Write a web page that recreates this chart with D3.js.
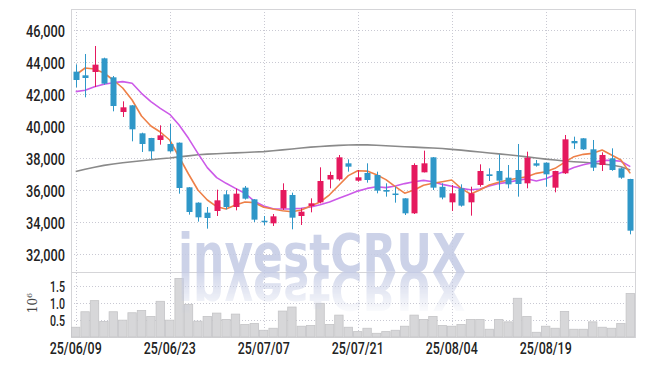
<!DOCTYPE html>
<html>
<head>
<meta charset="utf-8">
<script src="https://cdn.jsdelivr.net/npm/d3@7/dist/d3.min.js"></script>
<style>
  body { margin: 0; background: #fff; }
  .lbl { font-family: Roboto, "Liberation Sans", sans-serif; font-weight: 500; font-size: 16px; fill: #222; }
  .vlbl { font-family: Roboto, "Liberation Sans", sans-serif; font-weight: 500; font-size: 14px; fill: #222; }
</style>
</head>
<body>
<div id="chart"></div>
<script>
// trading days shown
var dates = [
  "2025-06-09","2025-06-10","2025-06-11","2025-06-12","2025-06-13","2025-06-16","2025-06-17","2025-06-18","2025-06-19","2025-06-20",
  "2025-06-23","2025-06-24","2025-06-25","2025-06-26","2025-06-27","2025-06-30","2025-07-01","2025-07-02","2025-07-03","2025-07-04",
  "2025-07-07","2025-07-08","2025-07-09","2025-07-10","2025-07-11","2025-07-14","2025-07-15","2025-07-16","2025-07-17","2025-07-18",
  "2025-07-21","2025-07-22","2025-07-23","2025-07-24","2025-07-25","2025-07-28","2025-07-29","2025-07-30","2025-07-31","2025-08-01",
  "2025-08-04","2025-08-05","2025-08-06","2025-08-07","2025-08-08","2025-08-11","2025-08-12","2025-08-13","2025-08-14","2025-08-18",
  "2025-08-19","2025-08-20","2025-08-21","2025-08-22","2025-08-25","2025-08-26","2025-08-27","2025-08-28","2025-08-29","2025-09-01"
];

var opens  = [43396,43167,43375,44229,43042,40875,41292,39542,39250,39125, 38875,38958,36167,35208,34583,34688,35729,34938,36146,35417,
              34080,33917,34854,35688,34375,35000,35229,36656,36667,37667, 36583,37063,36938,36000,35780,35479,34542,37104,38042,36200,
              35229,36104,35229,36313,36979,37188,36771,37250,36417,37667, 37708,36146,37042,39063,39229,38542,37563,37979,37354,36688];
var highs  = [43854,44500,45000,44271,43125,41542,41300,39583,39260,40042, 40125,38970,36180,35230,34938,36021,35979,36083,36250,35430,
              34375,34500,36417,35833,34854,35479,37417,37146,38188,37917, 37250,37667,37146,36417,36208,35490,37667,38458,38060,36417,
              36313,36354,36208,37604,37354,38229,37563,38875,38396,37875, 37720,37200,39438,39333,39240,39125,38354,38604,37400,36700];
var lows   = [42417,41792,42438,42583,40917,40563,39042,38375,37917,38833, 38333,35771,34458,34021,33583,34375,34792,34729,35400,34000,
              33800,33750,34750,33542,33813,34604,35167,36104,36583,37146, 36521,36458,35792,35583,35208,34438,34500,37100,36000,35417,
              34688,34958,34396,36208,36563,36000,36104,35583,36104,37458, 36208,35854,37000,38563,38500,37188,37188,37200,36700,33229];
var closes = [42875,43000,43833,42646,41250,41167,39792,38875,38417,39417, 38417,36125,34625,34292,34250,35354,34938,35771,35458,34146,
              34020,34354,36000,34271,34646,35167,36563,36938,38042,37458, 36792,36625,35958,35896,35720,34542,37563,37667,36146,35530,
              35792,35021,35792,37188,36875,36583,36354,36375,38021,37521, 36979,37188,39167,38917,38542,37396,38188,37250,36771,33458];

// moving averages as drawn (5, 20 and long term)
var ma5   = [43187,43625,43560,43312,42875,42375,41625,40625,40000,39625, 39125,38062,37000,36000,35375,34958,34812,35062,35250,35208,
             34917,34812,34700,34645,34750,35000,35250,35700,36300,36900, 37200,37180,36950,36650,36210,35800,36000,36300,36420,36520,
             36625,36104,35750,36000,36312,36479,36625,36730,36833,37041, 37145,37354,37730,38083,38229,38291,38500,38187,37875,37041];
var ma20  = [42146,42229,42458,42604,42708,42771,42667,42042,41521,41104, 40729,40062,39229,38292,37396,36771,36417,36104,35792,35300,
             35000,34830,34810,34820,34860,34940,35080,35250,35480,35700, 35930,36100,36200,36150,36250,36400,36520,36600,36520,36350,
             36230,36100,36020,36060,36250,36400,36480,36600,36700,36560, 36700,36950,37150,37400,37580,37700,37850,37850,37800,37460];
var maLong = [37150,37300,37420,37540,37620,37700,37770,37830,37890,37950, 38000,38070,38130,38200,38240,38270,38300,38320,38340,38370,
             38400,38450,38510,38560,38620,38680,38720,38760,38790,38810, 38820,38820,38800,38770,38730,38700,38680,38650,38620,38590,
             38540,38490,38430,38370,38310,38260,38200,38140,38070,38000, 37930,37870,37810,37770,37730,37680,37620,37560,37450,37250];

var volumes = [290000,750000,1080000,460000,750000,500000,720000,790000,610000,1060000, 500000,1740000,970000,470000,610000,710000,520000,680000,370000,400000,
               200000,260000,770000,890000,320000,340000,1000000,370000,650000,290000, 160000,260000,110000,160000,200000,320000,650000,520000,610000,340000,
               320000,370000,520000,520000,230000,520000,450000,1150000,610000,140000, 320000,260000,760000,230000,230000,450000,290000,260000,400000,1290000];

var priceTicks = [32000,34000,36000,38000,40000,42000,44000,46000];
var volTicks = [0.5,1.0,1.5];
var dateTicks = ["2025-06-09","2025-06-23","2025-07-07","2025-07-21","2025-08-04","2025-08-19"];

var W = 645, H = 366;
var L = 71, R = 635, T = 9, MB = 272, VB = 337;
var UP = "#e5195e", DOWN = "#2f97c8";

var svg = d3.select("#chart").append("svg").attr("width", W).attr("height", H);

var x = d3.scaleBand().domain(dates).range([L, R]).padding(0);
var y = d3.scaleLinear().domain([30875, 47312]).range([MB, T]);
var yv = d3.scaleLinear().domain([0, 1.93]).range([VB, MB]);
var cx = function(d){ return x(d) + x.bandwidth()/2; };

var rows = dates.map(function(d, i){
  return {d: d, o: opens[i], h: highs[i], l: lows[i], c: closes[i], v: volumes[i]/1e6};
});

//grid
var grid = svg.append("g").attr("stroke", "#c9c9d3").attr("stroke-dasharray", "1,2").attr("stroke-width", 1);
grid.selectAll(".hg").data(priceTicks).enter().append("line")
  .attr("x1", L).attr("x2", R)
  .attr("y1", function(d){ return Math.round(y(d)) + 0.5; })
  .attr("y2", function(d){ return Math.round(y(d)) + 0.5; });
grid.selectAll(".vg").data(volTicks).enter().append("line")
  .attr("x1", L).attr("x2", R)
  .attr("y1", function(d){ return Math.round(yv(d)) + 0.5; })
  .attr("y2", function(d){ return Math.round(yv(d)) + 0.5; });
grid.selectAll(".xg").data(dateTicks).enter().append("line")
  .attr("x1", function(d){ return Math.round(cx(d)) + 0.5; })
  .attr("x2", function(d){ return Math.round(cx(d)) + 0.5; })
  .attr("y1", T).attr("y2", VB);

//frame
svg.append("rect").attr("x", L + 0.5).attr("y", T + 0.5).attr("width", R - L).attr("height", VB - T)
  .attr("fill", "none").attr("stroke", "#d5d5d8");
svg.append("line").attr("x1", L).attr("x2", R).attr("y1", MB + 0.5).attr("y2", MB + 0.5).attr("stroke", "#d5d5d8");

//volume bars
svg.append("g").selectAll("rect").data(rows).enter().append("rect")
  .attr("x", function(d){ return x(d.d) + 0.5; })
  .attr("y", function(d){ return yv(d.v); })
  .attr("width", x.bandwidth() - 1)
  .attr("height", function(d){ return VB - yv(d.v); })
  .attr("fill", "#d7d7d9").attr("stroke", "#c4c4c6").attr("stroke-width", 0.8);

//moving averages
function maLine(vals, color, w){
  var line = d3.line().x(function(d, i){ return cx(dates[i]); }).y(function(d){ return y(d); });
  svg.append("path").datum(vals).attr("d", line).attr("fill", "none")
    .attr("stroke", color).attr("stroke-width", w).attr("stroke-linejoin", "round");
}
maLine(maLong, "#8a8a8a", 1.6);
maLine(ma20, "#cc5ae8", 1.6);
maLine(ma5, "#ee8048", 1.6);

//candles
var candle = svg.append("g").selectAll("g").data(rows).enter().append("g");
candle.append("line")
  .attr("x1", function(d){ return Math.round(cx(d.d)) + 0.5; })
  .attr("x2", function(d){ return Math.round(cx(d.d)) + 0.5; })
  .attr("y1", function(d){ return y(d.h); })
  .attr("y2", function(d){ return y(d.l); })
  .attr("stroke", function(d){ return d.c >= d.o ? UP : DOWN; });
candle.append("rect")
  .attr("x", function(d){ return Math.round(cx(d.d)) - 2.5; })
  .attr("width", 6)
  .attr("y", function(d){ return y(Math.max(d.o, d.c)); })
  .attr("height", function(d){ return Math.max(1.5, Math.abs(y(d.o) - y(d.c))); })
  .attr("fill", function(d){ return d.c >= d.o ? UP : DOWN; });

//watermark + reflection
var defs = svg.append("defs");
var grad = defs.append("linearGradient").attr("id", "fade")
  .attr("gradientUnits", "userSpaceOnUse").attr("x1", 0).attr("y1", MB).attr("x2", 0).attr("y2", 316);
grad.append("stop").attr("offset", 0).attr("stop-color", "#fff").attr("stop-opacity", 0.9);
grad.append("stop").attr("offset", 1).attr("stop-color", "#fff").attr("stop-opacity", 0);
defs.append("mask").attr("id", "refl").attr("maskUnits", "userSpaceOnUse")
  .attr("x", 0).attr("y", 0).attr("width", W).attr("height", H)
  .append("rect").attr("x", 0).attr("y", MB).attr("width", W).attr("height", 60).attr("fill", "url(#fade)");

function mark(g){
  g.append("text").attr("x", 178).attr("y", MB)
    .attr("font-family", "DejaVu Sans, sans-serif").attr("font-weight", "bold")
    .attr("font-size", 54).attr("textLength", 288).attr("lengthAdjust", "spacingAndGlyphs")
    .attr("fill", "#c3cae4").attr("fill-opacity", 0.85)
    .text("investCRUX");
}
mark(svg.append("g"));
mark(svg.append("g").attr("mask", "url(#refl)").append("g")
  .attr("transform", "translate(0," + (2 * MB) + ") scale(1,-1)"));

//axes
var yAxis = svg.append("g").attr("transform", "translate(" + (L - 6) + ",0)")
  .call(d3.axisLeft(y).tickValues(priceTicks).tickFormat(d3.format(",")).tickSize(0));
yAxis.select(".domain").remove();
yAxis.selectAll("text").attr("class", "lbl").attr("font-family", null).attr("font-size", null)
  .attr("dy", "0.42em").attr("x", 0).attr("textLength", 39).attr("lengthAdjust", "spacingAndGlyphs");

var vAxis = svg.append("g").attr("transform", "translate(" + (L - 6) + ",0)")
  .call(d3.axisLeft(yv).tickValues(volTicks).tickFormat(d3.format(".1f")).tickSize(0));
vAxis.select(".domain").remove();
vAxis.selectAll("text").attr("class", "vlbl").attr("font-family", null).attr("font-size", null)
  .attr("dy", "0.38em").attr("x", 0).attr("textLength", 15).attr("lengthAdjust", "spacingAndGlyphs");

var fmt = d3.timeFormat("%y/%m/%d"), parse = d3.timeParse("%Y-%m-%d");
var xAxis = svg.append("g").attr("transform", "translate(0," + (VB + 5) + ")")
  .call(d3.axisBottom(x).tickValues(dateTicks).tickFormat(function(d){ return fmt(parse(d)); }).tickSize(0));
xAxis.select(".domain").remove();
xAxis.selectAll("text").attr("class", "lbl").attr("font-family", null).attr("font-size", null)
  .attr("dy", "0.72em").attr("y", 0).attr("textLength", 52).attr("lengthAdjust", "spacingAndGlyphs");

var unit = svg.append("text")
  .attr("transform", "translate(37,303) rotate(-90)")
  .attr("text-anchor", "middle")
  .attr("font-family", "DejaVu Serif, serif").attr("font-size", 12).attr("fill", "#444");
unit.append("tspan").text("10");
unit.append("tspan").attr("dy", -5).attr("font-size", 8).text("6");
</script>
</body>
</html>
